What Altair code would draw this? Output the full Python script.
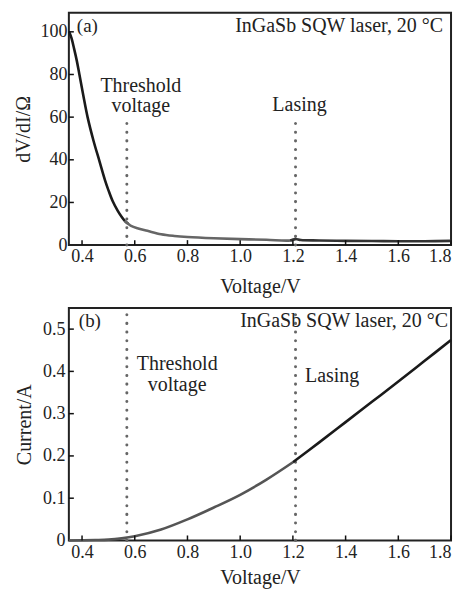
import altair as alt
import pandas as pd

# ---------------- data ----------------
# panel (a): differential resistance dV/dI vs voltage
a_voltage = [0.351, 0.36, 0.37, 0.38, 0.39, 0.405, 0.421, 0.444, 0.466, 0.487,
             0.50, 0.516, 0.535, 0.55, 0.562, 0.575, 0.586, 0.61, 0.648, 0.70,
             0.75, 0.80, 0.90, 1.00, 1.10, 1.19, 1.21, 1.23, 1.30, 1.40,
             1.50, 1.60, 1.70, 1.80]
a_dvdi = [100, 97, 92, 86.5, 80, 70, 60, 48.7, 39.4, 30.5,
          25.8, 20.7, 16.2, 13.3, 11.4, 10.0, 9.0, 7.9, 6.7, 5.1,
          4.3, 3.8, 3.2, 2.8, 2.5, 2.2, 2.9, 2.4, 2.2, 2.0,
          1.9, 1.8, 1.8, 2.0]

# panel (b): current vs voltage
b_voltage = [0.35, 0.45, 0.50, 0.55, 0.60, 0.70, 0.80, 0.90, 1.00, 1.10,
             1.20, 1.30, 1.40, 1.50, 1.60, 1.70, 1.80]
b_current = [0.0, 0.001, 0.002, 0.005, 0.010, 0.026, 0.050, 0.078, 0.108, 0.144,
             0.185, 0.232, 0.280, 0.328, 0.376, 0.425, 0.474]

x_ticks = [0.4, 0.6, 0.8, 1.0, 1.2, 1.4, 1.6, 1.8]
ya_ticks = [0, 20, 40, 60, 80, 100]
yb_ticks = [0, 0.1, 0.2, 0.3, 0.4, 0.5]

marker_voltage = [0.57, 1.21]          # threshold, lasing
title_text = "InGaSb  SQW  laser,  20 °C"

FONT = "Liberation Serif"
W, H = 383, 233
ANN = 20      # annotation font size
INTERP = "catmull-rom"

df_a = pd.DataFrame({"V": a_voltage, "R": a_dvdi})
df_b = pd.DataFrame({"V": b_voltage, "I": b_current})
df_xt = pd.DataFrame({"t": x_ticks})
df_yat = pd.DataFrame({"t": ya_ticks[1:]})
df_ybt = pd.DataFrame({"t": yb_ticks[1:]})

xscale = alt.Scale(domain=[0.35, 1.8], nice=False, zero=False)
ya_scale = alt.Scale(domain=[0, 109], nice=False)
yb_scale = alt.Scale(domain=[0, 0.55], nice=False)


def x_axis(label_pad, title_pad):
    return alt.Axis(values=x_ticks, format=".1f", ticks=False, grid=False,
                    domain=False, labelPadding=label_pad, title="Voltage/V",
                    titlePadding=title_pad)


def text_layer(df, scale, size=ANN, align="center"):
    return alt.Chart(df).mark_text(font=FONT, fontSize=size, color="#222",
                                   align=align, baseline="middle").encode(
        x=alt.X("V:Q", scale=xscale), y=alt.Y("y:Q", scale=scale), text="txt:N")


def corner_text(txt, x, align, size):
    return alt.Chart(pd.DataFrame({"txt": [txt]})).mark_text(
        font=FONT, fontSize=size, color="#222", align=align, baseline="middle"
    ).encode(x=alt.value(x), y=alt.value(13), text="txt:N")


# ---------------- panel (a) ----------------
xa = alt.X("V:Q", scale=xscale, axis=x_axis(2, 11))
ya = alt.Y("R:Q", scale=ya_scale,
           axis=alt.Axis(values=ya_ticks, format="d", ticks=False, grid=False,
                         domain=False, labelPadding=2, title="dV/dI/Ω",
                         titlePadding=6))

base_a = alt.Chart(df_a)
line_a1 = base_a.transform_filter("datum.V <= 0.575").mark_line(
    color="#1a1a1a", strokeWidth=2.6, interpolate=INTERP).encode(x=xa, y=ya)
line_a2 = base_a.transform_filter("datum.V >= 0.562 && datum.V <= 1.21").mark_line(
    color="#666666", strokeWidth=2.6, interpolate=INTERP).encode(x=xa, y=ya)
line_a3 = base_a.transform_filter("datum.V >= 1.19").mark_line(
    color="#333333", strokeWidth=2.6, interpolate=INTERP).encode(x=xa, y=ya)

mk_a = pd.DataFrame({"V": marker_voltage, "y0": [0, 0], "y1": [58, 58]})
dots_a = alt.Chart(mk_a).mark_rule(
    color="#666666", strokeWidth=3, strokeDash=[0.1, 8.6], strokeCap="round"
).encode(x=alt.X("V:Q", scale=xscale), y=alt.Y("y0:Q", scale=ya_scale), y2="y1:Q")

ann_a = pd.DataFrame({
    "V": [0.623, 0.623, 1.225],
    "y": [74.4, 65.0, 65.5],
    "txt": ["Threshold", "voltage", "Lasing"],
})
text_a = text_layer(ann_a, ya_scale)

xt_a = alt.Chart(df_xt).mark_rule(color="#111", strokeWidth=1.5).encode(
    x=alt.X("t:Q", scale=xscale), y=alt.value(H), y2=alt.value(H - 5))
yt_a = alt.Chart(df_yat).mark_rule(color="#111", strokeWidth=1.5).encode(
    y=alt.Y("t:Q", scale=ya_scale), x=alt.value(0), x2=alt.value(5))

panel_a = alt.layer(dots_a, line_a1, line_a2, line_a3, text_a,
                    corner_text("(a)", 8, "left", 19),
                    corner_text(title_text, 375, "right", 20),
                    xt_a, yt_a).properties(width=W, height=H)

# ---------------- panel (b) ----------------
xb = alt.X("V:Q", scale=xscale, axis=x_axis(3, 6))
yb = alt.Y("I:Q", scale=yb_scale,
           axis=alt.Axis(values=yb_ticks, ticks=False, grid=False, domain=False,
                         labelExpr="datum.value == 0 ? '0' : format(datum.value, '.1f')",
                         labelPadding=4, title="Current/A", titlePadding=8))

base_b = alt.Chart(df_b)
line_b1 = base_b.transform_filter("datum.V <= 1.2").mark_line(
    color="#555555", strokeWidth=2.6, interpolate=INTERP).encode(x=xb, y=yb)
line_b2 = base_b.transform_filter("datum.V >= 1.2").mark_line(
    color="#1a1a1a", strokeWidth=2.6, interpolate=INTERP).encode(x=xb, y=yb)

mk_b = pd.DataFrame({"V": marker_voltage, "y0": [0, 0], "y1": [0.55, 0.55]})
dots_b = alt.Chart(mk_b).mark_rule(
    color="#666666", strokeWidth=3, strokeDash=[0.1, 8.6], strokeCap="round"
).encode(x=alt.X("V:Q", scale=xscale), y=alt.Y("y0:Q", scale=yb_scale), y2="y1:Q")

ann_b = pd.DataFrame({
    "V": [0.761, 0.761, 1.349],
    "y": [0.418, 0.368, 0.39],
    "txt": ["Threshold", "voltage", "Lasing"],
})
text_b = text_layer(ann_b, yb_scale)

xt_b = alt.Chart(df_xt).mark_rule(color="#111", strokeWidth=1.5).encode(
    x=alt.X("t:Q", scale=xscale), y=alt.value(H), y2=alt.value(H - 5))
yt_b = alt.Chart(df_ybt).mark_rule(color="#111", strokeWidth=1.5).encode(
    y=alt.Y("t:Q", scale=yb_scale), x=alt.value(0), x2=alt.value(5))

panel_b = alt.layer(dots_b, line_b1, line_b2, text_b,
                    corner_text("(b)", 10, "left", 19),
                    corner_text(title_text, 380, "right", 20),
                    xt_b, yt_b).properties(width=W, height=H)

chart = alt.vconcat(panel_a, panel_b, spacing=8).properties(
    padding={"left": 5, "top": 3, "right": 5, "bottom": 0},
    background="white",
).configure_view(stroke="#222", strokeWidth=2).configure_axis(
    labelFont=FONT, titleFont=FONT, labelFontSize=18, titleFontSize=20,
    labelColor="#222", titleColor="#222", titleFontWeight="normal"
)

chart.save("out.html", embed_options={"renderer": "svg", "actions": False})
